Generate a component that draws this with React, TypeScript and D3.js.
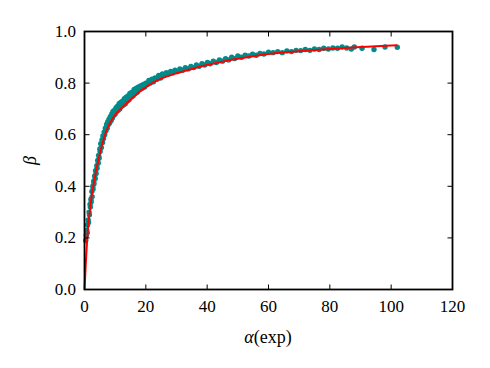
import React from "react";
import * as d3 from "d3";

const xTicks = [0, 20, 40, 60, 80, 100, 120];
const yTicks = [0, 0.2, 0.4, 0.6, 0.8, 1.0];

const scatterAlpha = [
  0.4, 0.6, 0.7, 0.9, 1.0, 1.2, 1.3, 1.5, 1.6, 1.8, 1.9, 2.1, 2.2, 2.4, 2.5, 2.7, 2.8, 3.0, 3.1, 3.3,
  3.5, 3.6, 3.8, 4.0, 4.1, 4.3, 4.5, 4.6, 4.8, 5.0, 5.1, 5.3, 5.5, 5.7, 5.9, 6.0, 6.2, 6.4, 6.6, 6.8,
  7.0, 7.2, 7.4, 7.6, 7.8, 8.0, 8.2, 8.4, 8.7, 8.9, 9.1, 9.3, 9.6, 9.8, 10.0, 10.3, 10.5, 10.8, 11.0, 11.3,
  11.5, 11.8, 12.1, 12.4, 12.7, 13.0, 13.3, 13.6, 13.9, 14.2, 14.5, 14.8, 15.1, 15.5, 15.8, 16.2, 16.5, 16.9, 17.2, 17.6,
  18.0, 18.4, 18.8, 19.2, 19.6, 20.0, 20.5, 21.0, 21.5, 22.0, 22.5, 23.0, 23.6, 24.2, 24.8, 25.4, 26.0, 26.7, 27.4, 28.1,
  28.8, 29.5, 30.3, 31.1, 32.0, 32.9, 33.8, 34.7, 35.6, 36.5, 37.4, 38.3, 39.2, 40.1, 41.0, 42.0, 43.0, 44.0, 45.0, 46.0,
  47.0, 48.0, 49.0, 50.0, 51.2, 52.4, 53.6, 54.8, 56.0, 57.2, 58.5, 60.0, 61.5, 63.0, 64.5, 66.0, 67.5, 69.0, 70.5, 72.0,
  73.5, 75.0, 76.5, 78.0, 79.5, 81.0, 82.5, 84.0, 85.5, 87.0, 88.0, 90.5, 94.4, 98.0, 102.0,
];
const scatterBeta = [
  0.19, 0.21, 0.23, 0.22, 0.25, 0.27, 0.26, 0.3, 0.29, 0.33, 0.32, 0.35, 0.34, 0.38, 0.36, 0.4, 0.39, 0.42, 0.41, 0.44,
  0.43, 0.46, 0.45, 0.48, 0.47, 0.5, 0.49, 0.52, 0.51, 0.545, 0.535, 0.565, 0.55, 0.58, 0.57, 0.595, 0.585, 0.61, 0.6, 0.625,
  0.615, 0.64, 0.625, 0.65, 0.64, 0.66, 0.645, 0.67, 0.655, 0.68, 0.665, 0.69, 0.675, 0.695, 0.68, 0.705, 0.69, 0.71, 0.695, 0.72,
  0.7, 0.725, 0.71, 0.73, 0.715, 0.74, 0.72, 0.745, 0.73, 0.75, 0.735, 0.76, 0.745, 0.765, 0.75, 0.775, 0.76, 0.78, 0.765, 0.785,
  0.775, 0.79, 0.78, 0.795, 0.785, 0.8, 0.795, 0.81, 0.8, 0.815, 0.805, 0.82, 0.815, 0.83, 0.82, 0.835, 0.83, 0.84, 0.835, 0.845,
  0.84, 0.85, 0.845, 0.855, 0.85, 0.86, 0.855, 0.865, 0.86, 0.87, 0.865, 0.875, 0.87, 0.88, 0.875, 0.885, 0.88, 0.89, 0.885, 0.895,
  0.89, 0.9, 0.895, 0.905, 0.9, 0.908, 0.905, 0.912, 0.908, 0.915, 0.913, 0.92, 0.918, 0.922, 0.918, 0.925, 0.922, 0.927, 0.926, 0.93,
  0.927, 0.932, 0.93, 0.935, 0.932, 0.936, 0.935, 0.94, 0.936, 0.932, 0.94, 0.935, 0.93, 0.94, 0.939,
];

const fitAlpha = [0, 0.3, 0.6, 0.9, 1.3, 1.8, 2.3, 2.85, 3.5, 4.5, 5.5, 6.7, 8, 9.5, 11, 12.7, 14, 15.9, 18, 20, 22, 25, 30, 35, 40, 45, 50, 55, 60, 70, 80, 90, 102];
const fitBeta = [0, 0.07, 0.14, 0.2, 0.26, 0.31, 0.36, 0.4, 0.443, 0.5, 0.55, 0.6, 0.638, 0.668, 0.69, 0.71, 0.725, 0.745, 0.767, 0.784, 0.8, 0.817, 0.838, 0.855, 0.87, 0.883, 0.894, 0.904, 0.913, 0.923, 0.932, 0.94, 0.947];

const W = 490;
const H = 368;
const left = 84.5;
const right = 452.5;
const top = 31.5;
const bottom = 289.5;
const FONT = "Liberation Serif, DejaVu Serif, serif";

export default function App() {
  const x = d3.scaleLinear().domain([0, 120]).range([left, right]);
  const y = d3.scaleLinear().domain([0, 1]).range([bottom, top]);
  const line = d3
    .line<number>()
    .x((_, i) => x(fitAlpha[i]))
    .y((d) => y(d))
    .curve(d3.curveMonotoneX);
  const tl = 5;
  return (
    <svg width={W} height={H} style={{ position: "absolute", left: 0, top: 0, background: "#fff" }}>
      <rect x={0} y={0} width={W} height={H} fill="#fff" />
      <g>
        {scatterAlpha.map((a, i) => (
          <circle key={i} cx={x(a)} cy={y(scatterBeta[i])} r={2.7} fill="#008b8b" />
        ))}
      </g>
      <path d={line(fitBeta) || ""} fill="none" stroke="#ff0000" strokeWidth={2} />
      {xTicks.map((t) => (
        <g key={"x" + t}>
          <line x1={x(t)} x2={x(t)} y1={bottom} y2={bottom - tl} stroke="#000" strokeWidth={1} />
          <line x1={x(t)} x2={x(t)} y1={top} y2={top + tl} stroke="#000" strokeWidth={1} />
          <text x={x(t)} y={312} textAnchor="middle" fontFamily={FONT} fontSize={17} fill="#000">
            {t}
          </text>
        </g>
      ))}
      {yTicks.map((t) => (
        <g key={"y" + t}>
          <line x1={left} x2={left + tl} y1={y(t)} y2={y(t)} stroke="#000" strokeWidth={1} />
          <line x1={right} x2={right - tl} y1={y(t)} y2={y(t)} stroke="#000" strokeWidth={1} />
          <text x={76} y={y(t) + 5.5} textAnchor="end" fontFamily={FONT} fontSize={17} fill="#000">
            {t.toFixed(1)}
          </text>
        </g>
      ))}
      <rect x={left} y={top} width={right - left} height={bottom - top} fill="none" stroke="#000" strokeWidth={1.8} />
      <text x={268} y={343} textAnchor="middle" fontFamily={FONT} fontSize={18} fill="#000">
        <tspan fontStyle="italic">α</tspan>(exp)
      </text>
      <text
        transform={`translate(36,${(top + bottom) / 2}) rotate(-90)`}
        textAnchor="middle"
        fontFamily={FONT}
        fontSize={18}
        fontStyle="italic"
        fill="#000"
      >
        β
      </text>
    </svg>
  );
}
